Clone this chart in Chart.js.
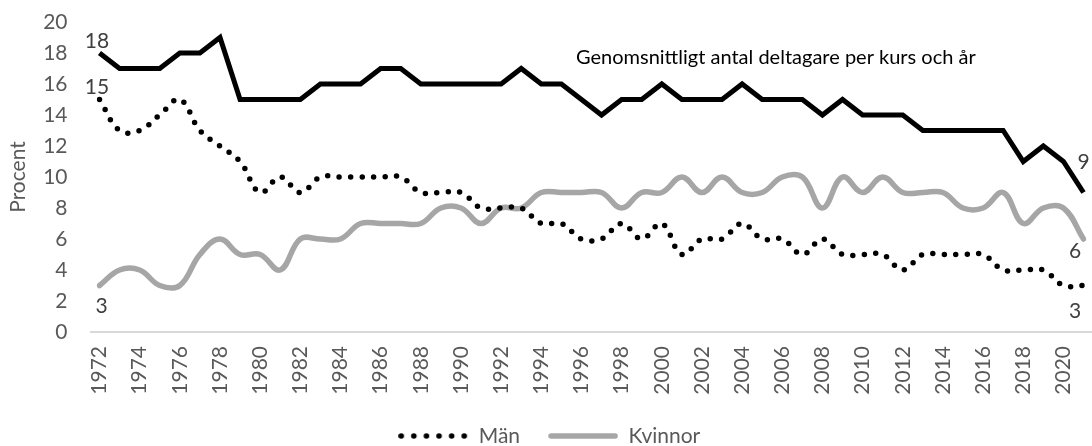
<!DOCTYPE html>
<html>
<head>
<meta charset="utf-8">
<script src="https://cdn.jsdelivr.net/npm/chart.js@4.4.1/dist/chart.umd.min.js"></script>
<style>
html,body{margin:0;padding:0;background:#fff;}
#wrap{width:1092px;height:446px;position:relative;}
</style>
</head>
<body>
<div id="wrap"><canvas id="c" width="1092" height="446"></canvas></div>
<script>
const years = ['1972','1973','1974','1975','1976','1977','1978','1979','1980','1981',
  '1982','1983','1984','1985','1986','1987','1988','1989','1990','1991',
  '1992','1993','1994','1995','1996','1997','1998','1999','2000','2001',
  '2002','2003','2004','2005','2006','2007','2008','2009','2010','2011',
  '2012','2013','2014','2015','2016','2017','2018','2019','2020','2021'];

const avgParticipants = [18,17,17,17,18,18,19,15,15,15,
  15,16,16,16,17,17,16,16,16,16,
  16,17,16,16,15,14,15,15,16,15,
  15,15,16,15,15,15,14,15,14,14,
  14,13,13,13,13,13,11,12,11,9];

const man = [15,13,13,14,15,13,12,11,9,10,
  9,10,10,10,10,10,9,9,9,8,
  8,8,7,7,6,6,7,6,7,5,
  6,6,7,6,6,5,6,5,5,5,
  4,5,5,5,5,4,4,4,3,3];

const kvinnor = [3,4,4,3,3,5,6,5,5,4,
  6,6,6,7,7,7,7,8,8,7,
  8,8,9,9,9,9,8,9,9,10,
  9,10,9,9,10,10,8,10,9,10,
  9,9,9,8,8,9,7,8,8,6];

const yTicks = [0,2,4,6,8,10,12,14,16,18,20];
const annotationText = 'Genomsnittligt antal deltagare per kurs och år';
const yTitle = 'Procent';

const FONT = 'Lato';
const FS = 21;
const GRAY_TXT = '#595959';

function legendSample(kind) {
  const c = document.createElement('canvas');
  c.width = 70; c.height = 8;
  const g = c.getContext('2d');
  g.lineCap = 'round';
  if (kind === 'dots') {
    g.fillStyle = '#000';
    for (let i = 0; i < 6; i++) {
      g.beginPath();
      g.arc(3 + i * 12.6, 4, 2.8, 0, Math.PI * 2);
      g.fill();
    }
  } else {
    g.strokeStyle = '#a6a6a6';
    g.lineWidth = 5.5;
    g.beginPath();
    g.moveTo(3, 4); g.lineTo(67, 4);
    g.stroke();
  }
  return c;
}
const legendImgs = [legendSample('dots'), legendSample('line')];

const endLabels = {
  id: 'endLabels',
  afterDatasetsDraw(chart) {
    const ctx = chart.ctx;
    ctx.save();
    ctx.font = FS + 'px ' + FONT;
    ctx.fillStyle = '#404040';
    ctx.textAlign = 'center';
    ctx.textBaseline = 'middle';
    chart.data.datasets.forEach((ds, i) => {
      const meta = chart.getDatasetMeta(i);
      const cfg = ds.endLabel;
      if (!cfg) return;
      const pts = meta.data;
      const f = pts[0], l = pts[pts.length - 1];
      ctx.fillText(String(ds.data[0]), f.x + cfg.first[0], f.y + cfg.first[1]);
      ctx.fillText(String(ds.data[ds.data.length - 1]), l.x + cfg.last[0], l.y + cfg.last[1]);
    });
    ctx.restore();
  }
};

const decor = {
  id: 'decor',
  beforeDatasetsDraw(chart) {
    const ctx = chart.ctx;
    const y0 = chart.scales.y.getPixelForValue(0);
    ctx.save();
    ctx.strokeStyle = '#d9d9d9';
    ctx.lineWidth = 2;
    ctx.beginPath();
    ctx.moveTo(chart.chartArea.left - 9.5, y0);
    ctx.lineTo(1092, y0);
    ctx.stroke();
    ctx.restore();
  },
  afterDraw(chart) {
    const ctx = chart.ctx;
    ctx.save();
    ctx.fillStyle = '#000';
    ctx.textBaseline = 'middle';
    ctx.textAlign = 'left';
    let size = 17;
    ctx.font = size + 'px ' + FONT;
    const w = ctx.measureText(annotationText).width;
    size = size * 400 / w;
    ctx.font = size.toFixed(2) + 'px ' + FONT;
    ctx.fillText(annotationText, 576, 58);
    ctx.restore();
  }
};

new Chart(document.getElementById('c'), {
  type: 'line',
  data: {
    labels: years,
    datasets: [
      {
        label: 'Män',
        data: man,
        borderColor: '#000',
        backgroundColor: '#000',
        borderWidth: 5.5,
        borderDash: [0, 11.5],
        borderCapStyle: 'round',
        tension: 0.4,
        pointRadius: 0,
        fill: false,
        endLabel: {first: [-2.5, -12.5], last: [-8.5, 25.6]}
      },
      {
        label: 'Kvinnor',
        data: kvinnor,
        borderColor: '#a6a6a6',
        backgroundColor: '#a6a6a6',
        borderWidth: 5.5,
        borderCapStyle: 'round',
        tension: 0.4,
        pointRadius: 0,
        fill: false,
        endLabel: {first: [2, 21], last: [-8.5, 12]}
      },
      {
        label: 'Genomsnittligt antal deltagare per kurs och år',
        data: avgParticipants,
        borderColor: '#000',
        backgroundColor: '#000',
        borderWidth: 5,
        borderJoinStyle: 'miter',
        tension: 0,
        pointRadius: 0,
        fill: false,
        endLabel: {first: [-2.5, -12], last: [0, -30]}
      }
    ]
  },
  options: {
    responsive: false,
    animation: false,
    events: [],
    layout: {padding: {left: 15, right: 8.5, top: 22, bottom: 0}},
    plugins: {
      tooltip: {enabled: false},
      legend: {
        position: 'bottom',
        maxHeight: 48.5,
        labels: {
          usePointStyle: true,
          pointStyleWidth: 70,
          padding: 28,
          color: GRAY_TXT,
          font: {family: FONT, size: FS},
          generateLabels: (chart) => {
            const base = Chart.defaults.plugins.legend.labels.generateLabels(chart);
            return base.filter(it => it.datasetIndex !== 2).map(it => {
              it.pointStyle = legendImgs[it.datasetIndex];
              return it;
            });
          }
        }
      }
    },
    scales: {
      x: {
        grid: {display: false, drawTicks: false},
        border: {display: false},
        offset: false,
        ticks: {
          autoSkip: false,
          minRotation: 90,
          maxRotation: 90,
          padding: 14,
          color: GRAY_TXT,
          font: {family: FONT, size: FS},
          callback: function(v, i) { return i % 2 === 0 ? years[i] : ''; }
        },
        afterFit: (s) => { s.height = 65.5; s.paddingLeft = 0; s.paddingRight = 0; }
      },
      y: {
        min: 0,
        max: 20,
        afterBuildTicks: (s) => { s.ticks = yTicks.map(v => ({value: v})); },
        grid: {display: false, drawTicks: false},
        border: {display: false},
        ticks: {
          padding: 32,
          color: GRAY_TXT,
          font: {family: FONT, size: FS}
        },
        title: {
          display: true,
          text: yTitle,
          color: GRAY_TXT,
          font: {family: FONT, size: FS},
          padding: {top: -9.6, bottom: 0}
        },
        afterFit: (s) => { s.width = 84.5; s.paddingTop = 0; s.paddingBottom = 0; }
      }
    }
  },
  plugins: [decor, endLabels]
});
</script>
</body>
</html>
